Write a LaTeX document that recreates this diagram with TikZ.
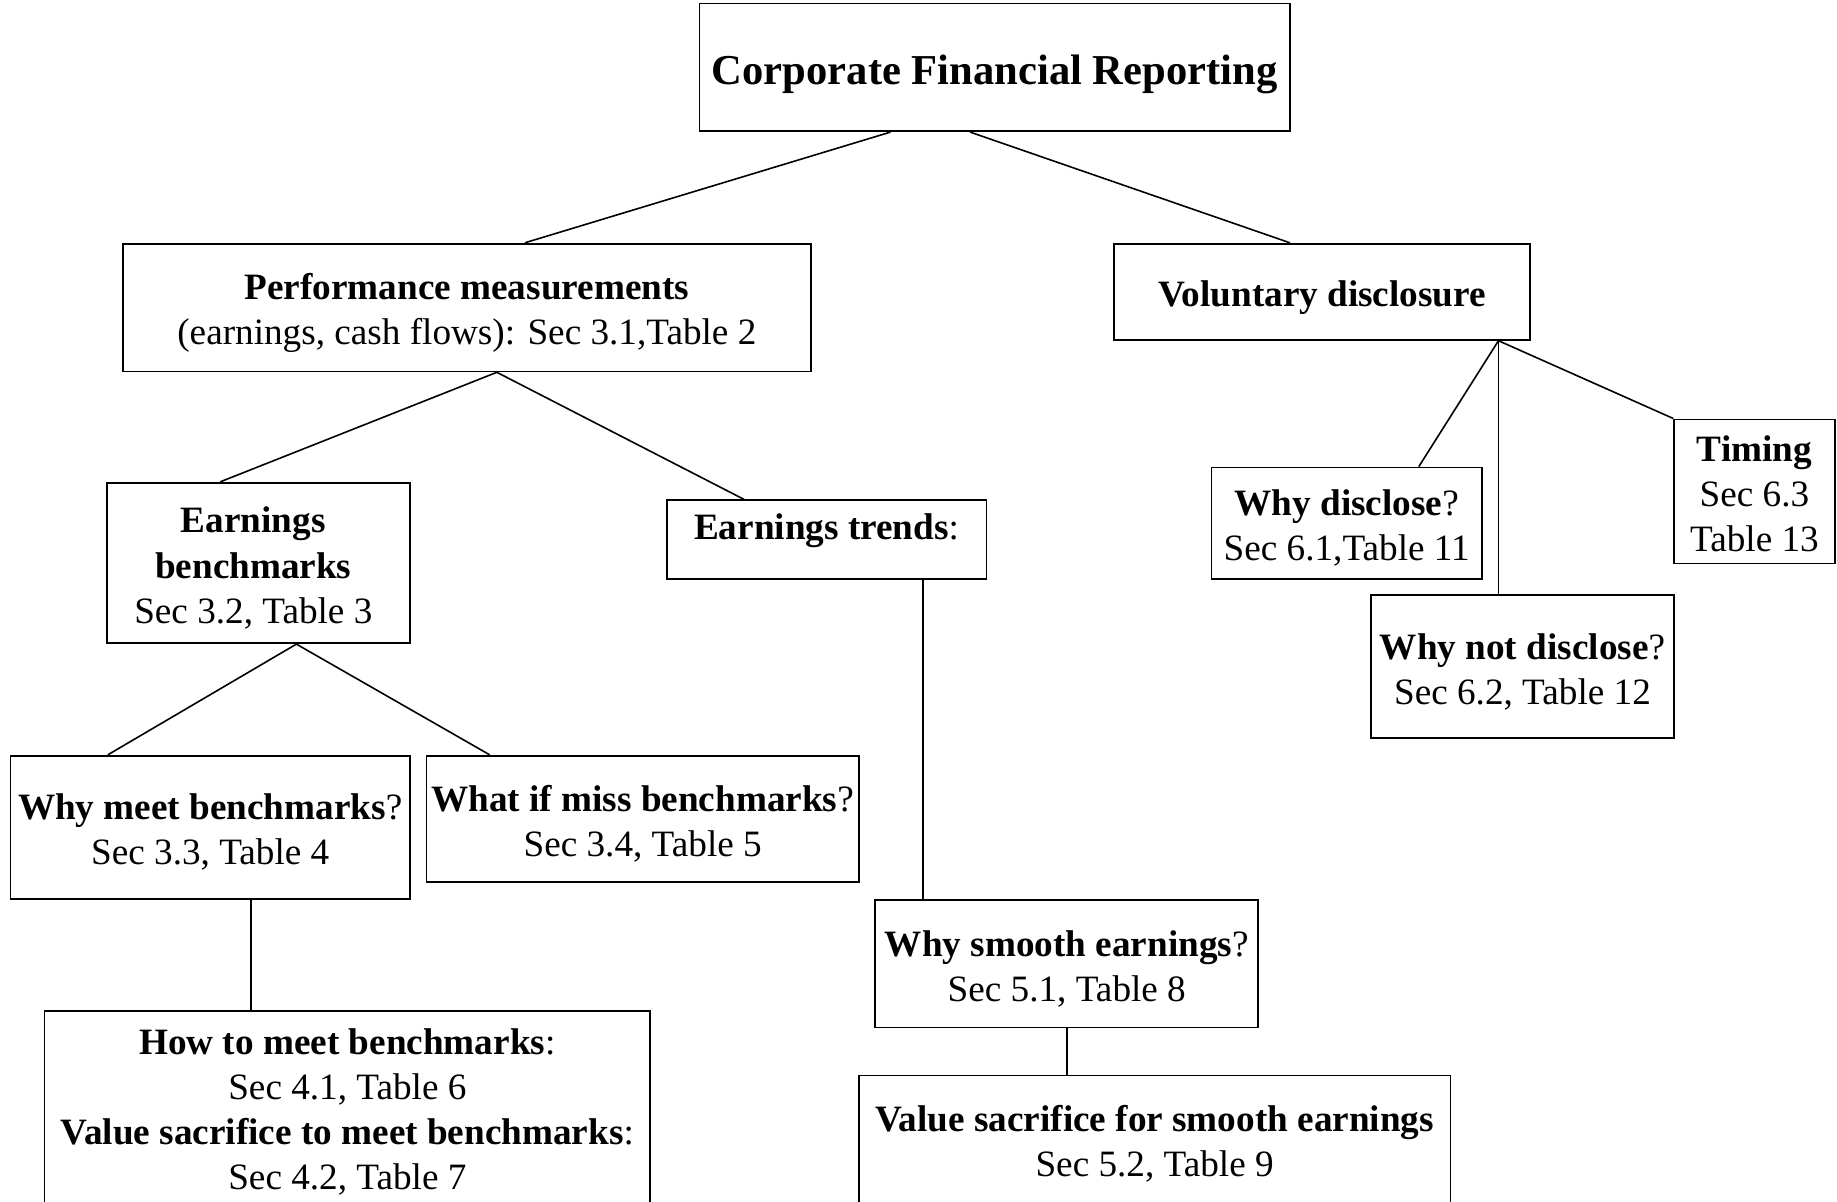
\documentclass[tikz,border=0pt]{standalone}
\usepackage{fontspec}
\setmainfont{Liberation Serif}
\usetikzlibrary{calc}
\tikzset{
  box/.style={draw, line width=0.9pt, rectangle, inner sep=0pt},
  txt/.style={inner sep=0pt, align=center, font=\fontsize{18.6pt}{22.6pt}\selectfont},
  titletxt/.style={txt, font=\fontsize{21.3pt}{25pt}\selectfont\bfseries},
  conn/.style={line width=0.8pt}
}
\begin{document}
\begin{tikzpicture}[x=0.5pt,y=-0.5pt]
\useasboundingbox (0,0) rectangle (1837,1201);
\fill[white] (0,0) rectangle (1837,1201);
\begin{scope}
\clip (0,0) rectangle (1837,1201);
% boxes
\node[box, minimum width=295.25pt, minimum height=63.85pt] (root) at (994.65,67.35) {};
\node[box, minimum width=343.85pt, minimum height=63.85pt] (perf) at (466.85,307.55) {};
\node[box, minimum width=207.95pt, minimum height=48.05pt] (vol) at (1322.15,291.75) {};
\node[box, minimum width=151.7pt, minimum height=80.25pt] (eb) at (258.3,562.95) {};
\node[box, minimum width=159.95pt, minimum height=39.25pt] (et) at (826.55,539.55) {};
\node[box, minimum width=199.75pt, minimum height=71.45pt] (wm) at (210.25,827.15) {};
\node[box, minimum width=216.15pt, minimum height=63.25pt] (wim) at (642.65,818.95) {};
\node[box, minimum width=302.85pt, minimum height=98.5pt] (how) at (347.35,1109.5) {};
\node[box, minimum width=191.55pt, minimum height=63.85pt] (ws) at (1066.75,963.65) {};
\node[box, minimum width=295.8pt, minimum height=65.5pt] (vs) at (1154.6,1141) {};
\node[box, minimum width=135.3pt, minimum height=55.65pt] (wd) at (1346.7,523.15) {};
\node[box, minimum width=151.7pt, minimum height=71.45pt] (wnd) at (1522.5,666.65) {};
\node[box, minimum width=80.25pt, minimum height=72.05pt] (tim) at (1754.45,491.45) {};

% texts
\node[titletxt] (roott) at ($(root)+(0,7)$) {Corporate Financial Reporting};
\node[txt] (perft) at ($(perf)+(0,5)$) {\textbf{Performance measurements}\\(earnings, cash flows): Sec 3.1,Table 2};
\node[txt] (volt) at ($(vol)+(0,5.5)$) {\textbf{Voluntary disclosure}};
\node[txt] (ebt) at ($(eb)+(-5,5)$) {\textbf{Earnings}\\\textbf{benchmarks}\\Sec 3.2, Table 3};
\node[txt] (ett) at ($(et)+(0,-8.5)$) {\textbf{Earnings trends}:};
\node[txt] (wmt) at ($(wm)+(0,5)$) {\textbf{Why meet benchmarks}?\\Sec 3.3, Table 4};
\node[txt] (wimt) at ($(wim)+(0,5)$) {\textbf{What if miss benchmarks}?\\Sec 3.4, Table 5};
\node[txt] (howt) at ($(how)+(0,2.5)$) {\textbf{How to meet benchmarks}:\\Sec 4.1, Table 6\\\textbf{Value sacrifice to meet benchmarks}:\\Sec 4.2, Table 7};
\node[txt] (wst) at ($(ws)+(0,5)$) {\textbf{Why smooth earnings}?\\Sec 5.1, Table 8};
\node[txt] (vst) at ($(vs)+(0,3)$) {\textbf{Value sacrifice for smooth earnings}\\Sec 5.2, Table 9};
\node[txt] (wdt) at ($(wd)+(0,5)$) {\textbf{Why disclose}?\\Sec 6.1,Table 11};
\node[txt] (wndt) at ($(wnd)+(0,5)$) {\textbf{Why not disclose}?\\Sec 6.2, Table 12};
\node[txt] (timt) at ($(tim)+(0,2.5)$) {\textbf{Timing}\\Sec 6.3\\Table 13};

% connectors
\draw[conn] ($(root.south)+(-104.2,0)$) -- ($(perf.north)+(58,0)$);
\draw[conn] ($(root.south)+(-24.5,0)$) -- ($(vol.north)+(-32.2,0)$);
\coordinate (pj) at ($(perf.south)+(30,0)$);
\draw[conn] (pj) -- ($(eb.north)+(-38,0)$);
\draw[conn] (pj) -- ($(et.north)+(-82.5,0)$);
\coordinate (ej) at ($(eb.south)+(38.1,0)$);
\draw[conn] (ej) -- ($(wm.north)+(-102.4,0)$);
\draw[conn] (ej) -- ($(wim.north)+(-153,0)$);
\coordinate (wj) at ($(wm.south)+(40.5,0)$);
\draw[conn] (wj) -- (wj |- how.north);
\coordinate (tj) at ($(et.south)+(96.7,0)$);
\draw[conn] (tj) -- (tj |- ws.north);
\coordinate (sj) at (ws.south);
\draw[conn] (sj) -- (sj |- vs.north);
\coordinate (vj) at ($(vol.south)+(176.3,0)$);
\draw[conn] (vj) -- ($(wd.north)+(72.1,0)$);
\draw[conn] (vj) -- (vj |- wnd.north);
\draw[conn] (vj) -- (tim.north west);
\end{scope}
\end{tikzpicture}
\end{document}
